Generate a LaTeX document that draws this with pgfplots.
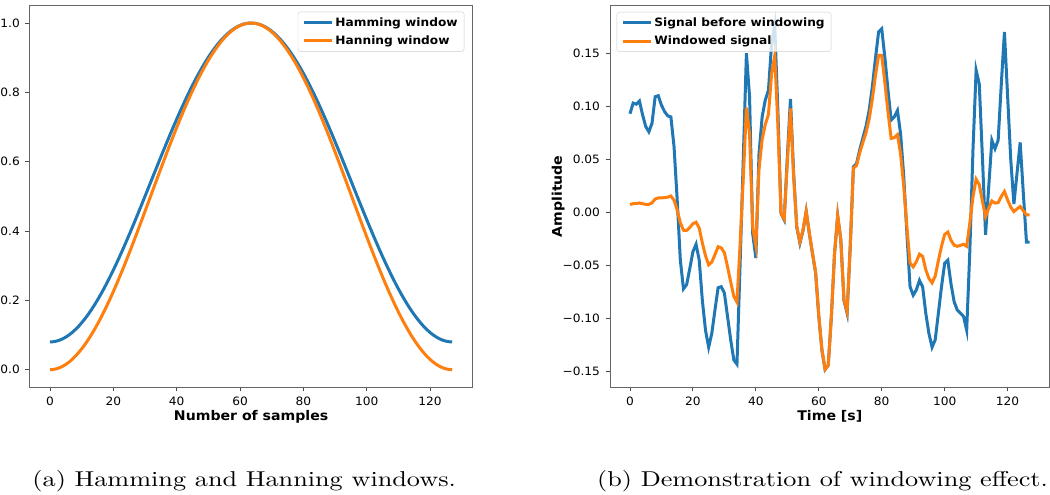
\documentclass[border=0pt]{standalone}
\usepackage{fontspec}
\setmainfont{lmroman10-regular}[Extension=.otf, FakeStretch=1.22]
\newfontfamily\dejavu{DejaVu Sans}[FakeStretch=1.06]
\usepackage{pgfplots}
\pgfplotsset{compat=1.18}
\usepackage{pgfplotstable}
\definecolor{mblue}{HTML}{1F77B4}
\definecolor{morange}{HTML}{FF7F0E}

\pgfplotstableread{
n ham han
0 0.0800 0.0000
1 0.0806 0.0006
2 0.0823 0.0024
3 0.0851 0.0055
4 0.0890 0.0098
5 0.0940 0.0152
6 0.1001 0.0219
7 0.1073 0.0297
8 0.1156 0.0387
9 0.1248 0.0488
10 0.1352 0.0600
11 0.1465 0.0722
12 0.1587 0.0856
13 0.1719 0.0999
14 0.1860 0.1152
15 0.2010 0.1315
16 0.2167 0.1486
17 0.2333 0.1667
18 0.2507 0.1855
19 0.2687 0.2051
20 0.2874 0.2254
21 0.3067 0.2464
22 0.3266 0.2681
23 0.3470 0.2903
24 0.3679 0.3129
25 0.3892 0.3361
26 0.4109 0.3597
27 0.4329 0.3836
28 0.4551 0.4078
29 0.4776 0.4322
30 0.5002 0.4568
31 0.5229 0.4815
32 0.5457 0.5062
33 0.5684 0.5309
34 0.5911 0.5555
35 0.6137 0.5801
36 0.6360 0.6044
37 0.6581 0.6284
38 0.6800 0.6522
39 0.7015 0.6755
40 0.7226 0.6985
41 0.7432 0.7209
42 0.7634 0.7428
43 0.7830 0.7641
44 0.8020 0.7848
45 0.8204 0.8048
46 0.8381 0.8240
47 0.8551 0.8425
48 0.8712 0.8601
49 0.8866 0.8768
50 0.9012 0.8926
51 0.9148 0.9074
52 0.9275 0.9212
53 0.9393 0.9340
54 0.9501 0.9458
55 0.9599 0.9564
56 0.9687 0.9660
57 0.9764 0.9744
58 0.9831 0.9816
59 0.9887 0.9877
60 0.9931 0.9925
61 0.9965 0.9962
62 0.9987 0.9986
63 0.9999 0.9998
64 0.9999 0.9998
65 0.9987 0.9986
66 0.9965 0.9962
67 0.9931 0.9925
68 0.9887 0.9877
69 0.9831 0.9816
70 0.9764 0.9744
71 0.9687 0.9660
72 0.9599 0.9564
73 0.9501 0.9458
74 0.9393 0.9340
75 0.9275 0.9212
76 0.9148 0.9074
77 0.9012 0.8926
78 0.8866 0.8768
79 0.8712 0.8601
80 0.8551 0.8425
81 0.8381 0.8240
82 0.8204 0.8048
83 0.8020 0.7848
84 0.7830 0.7641
85 0.7634 0.7428
86 0.7432 0.7209
87 0.7226 0.6985
88 0.7015 0.6755
89 0.6800 0.6522
90 0.6581 0.6284
91 0.6360 0.6044
92 0.6137 0.5801
93 0.5911 0.5555
94 0.5684 0.5309
95 0.5457 0.5062
96 0.5229 0.4815
97 0.5002 0.4568
98 0.4776 0.4322
99 0.4551 0.4078
100 0.4329 0.3836
101 0.4109 0.3597
102 0.3892 0.3361
103 0.3679 0.3129
104 0.3470 0.2903
105 0.3266 0.2681
106 0.3067 0.2464
107 0.2874 0.2254
108 0.2687 0.2051
109 0.2507 0.1855
110 0.2333 0.1667
111 0.2167 0.1486
112 0.2010 0.1315
113 0.1860 0.1152
114 0.1719 0.0999
115 0.1587 0.0856
116 0.1465 0.0722
117 0.1352 0.0600
118 0.1248 0.0488
119 0.1156 0.0387
120 0.1073 0.0297
121 0.1001 0.0219
122 0.0940 0.0152
123 0.0890 0.0098
124 0.0851 0.0055
125 0.0823 0.0024
126 0.0806 0.0006
127 0.0800 0.0000
}\windows

\pgfplotstableread{
n s w
0 0.093 0.0074
1 0.103 0.0083
2 0.102 0.0084
3 0.105 0.0089
4 0.092 0.0082
5 0.081 0.0076
6 0.076 0.0076
7 0.084 0.0090
8 0.109 0.0126
9 0.110 0.0137
10 0.101 0.0137
11 0.095 0.0139
12 0.091 0.0144
13 0.090 0.0155
14 0.062 0.0115
15 0.012 0.0024
16 -0.045 -0.0098
17 -0.072 -0.0168
18 -0.068 -0.0170
19 -0.053 -0.0142
20 -0.037 -0.0106
21 -0.030 -0.0092
22 -0.045 -0.0147
23 -0.083 -0.0288
24 -0.111 -0.0408
25 -0.127 -0.0494
26 -0.114 -0.0468
27 -0.092 -0.0398
28 -0.071 -0.0323
29 -0.070 -0.0334
30 -0.076 -0.0380
31 -0.098 -0.0512
32 -0.120 -0.0655
33 -0.139 -0.0790
34 -0.143 -0.0845
35 -0.048 -0.0295
36 0.050 0.0318
37 0.150 0.0987
38 0.109 0.0741
39 -0.020 -0.0140
40 -0.043 -0.0311
41 0.055 0.0409
42 0.090 0.0687
43 0.106 0.0830
44 0.115 0.0922
45 0.159 0.1304
46 0.176 0.1475
47 0.096 0.0821
48 -0.001 -0.0009
49 -0.007 -0.0062
50 0.052 0.0469
51 0.107 0.0979
52 0.037 0.0343
53 -0.014 -0.0132
54 -0.029 -0.0276
55 -0.017 -0.0163
56 0.001 0.0010
57 -0.020 -0.0195
58 -0.039 -0.0383
59 -0.057 -0.0564
60 -0.098 -0.0973
61 -0.130 -0.1295
62 -0.148 -0.1478
63 -0.144 -0.1440
64 -0.098 -0.0980
65 -0.039 -0.0389
66 -0.003 -0.0030
67 -0.026 -0.0258
68 -0.083 -0.0821
69 -0.095 -0.0934
70 -0.032 -0.0312
71 0.043 0.0417
72 0.046 0.0442
73 0.059 0.0561
74 0.070 0.0658
75 0.081 0.0751
76 0.096 0.0878
77 0.118 0.1063
78 0.145 0.1286
79 0.170 0.1481
80 0.173 0.1479
81 0.146 0.1224
82 0.115 0.0943
83 0.087 0.0698
84 0.090 0.0705
85 0.096 0.0733
86 0.074 0.0550
87 0.034 0.0246
88 -0.020 -0.0140
89 -0.070 -0.0476
90 -0.078 -0.0513
91 -0.073 -0.0464
92 -0.064 -0.0393
93 -0.070 -0.0414
94 -0.095 -0.0540
95 -0.114 -0.0622
96 -0.127 -0.0664
97 -0.120 -0.0600
98 -0.095 -0.0454
99 -0.070 -0.0319
100 -0.048 -0.0208
101 -0.045 -0.0185
102 -0.067 -0.0261
103 -0.084 -0.0309
104 -0.092 -0.0319
105 -0.095 -0.0310
106 -0.098 -0.0301
107 -0.111 -0.0319
108 -0.036 -0.0097
109 0.059 0.0148
110 0.134 0.0313
111 0.121 0.0262
112 0.052 0.0105
113 -0.021 -0.0039
114 0.024 0.0041
115 0.068 0.0108
116 0.060 0.0088
117 0.068 0.0092
118 0.121 0.0151
119 0.170 0.0197
120 0.110 0.0118
121 0.050 0.0050
122 0.008 0.0008
123 0.037 0.0033
124 0.066 0.0056
125 0.018 0.0015
126 -0.028 -0.0023
127 -0.028 -0.0022
}\signal

\pgfplotsset{
  myax/.style={
    scale only axis,
    anchor=south west,
    axis line style={black!60, line width=0.9pt},
    tick align=outside,
    tick pos=left,
    major tick length=4.5pt,
    tick style={black!70, line width=0.9pt},
    tick label style={font=\dejavu\fontsize{11.5}{13}\selectfont},
    yticklabel style={xshift=-2pt},
    xticklabel style={yshift=-1.5pt},
    /pgf/number format/assume math mode=true,
    xmin=-6.35, xmax=133.35,
    xtick={0,20,...,120},
    label style={font=\dejavu\bfseries\fontsize{13.3}{15}\selectfont},
    xlabel style={at={(axis description cs:0.5,-0.078)}, anchor=center},
    legend cell align=left,
    legend image code/.code={\draw[##1, line width=3pt] (0pt,0pt) -- (28pt,0pt);},
    legend style={draw=black!20, rounded corners=2.5pt, fill=white, fill opacity=0.8, text opacity=1,
      font=\dejavu\bfseries\fontsize{11.5}{13}\selectfont,
      inner xsep=4.5pt, inner ysep=3.5pt, row sep=4pt},
  }
}

\begin{document}
\begin{tikzpicture}
\useasboundingbox (0pt,0pt) rectangle (1050pt,495pt);
\begin{axis}[myax,
  at={(29.9pt,108pt)}, width=442.4pt, height=381.3pt,
  ymin=-0.05, ymax=1.05,
  ytick={0,0.2,0.4,0.6,0.8,1.0},
  yticklabels={0.0,0.2,0.4,0.6,0.8,1.0},
  xlabel={Number of samples},
  legend style={at={(0.982,0.9843)}, anchor=north east},
]
\addplot[mblue, line width=3pt] table[x=n, y=ham] {\windows};
\addlegendentry{Hamming window}
\addplot[morange, line width=3pt] table[x=n, y=han] {\windows};
\addlegendentry{Hanning window}
\end{axis}

\begin{axis}[myax,
  at={(610pt,108pt)}, width=439.6pt, height=381.3pt,
  ymin=-0.1645, ymax=0.1948,
  ytick={-0.15,-0.10,-0.05,0,0.05,0.10,0.15},
  yticklabels={−0.15,−0.10,−0.05,0.00,0.05,0.10,0.15},
  xlabel={Time [s]},
  ylabel={Amplitude},
  ylabel style={at={(axis description cs:-0.118,0.5)}, anchor=center, rotate=0},
  legend style={at={(0.0152,0.9835)}, anchor=north west},
]
\addplot[mblue, line width=3pt] table[x=n, y=s] {\signal};
\addlegendentry{Signal before windowing}
\addplot[morange, line width=3pt] table[x=n, y=w] {\signal};
\addlegendentry{Windowed signal}
\end{axis}

\node[font=\fontsize{21.5}{25}\selectfont, anchor=base] at (244.2pt,8.3pt) {(a) Hamming and Hanning windows.};
\node[font=\fontsize{21.5}{25}\selectfont, anchor=base] at (822.5pt,8.3pt) {(b) Demonstration of windowing effect.};
\end{tikzpicture}
\end{document}
